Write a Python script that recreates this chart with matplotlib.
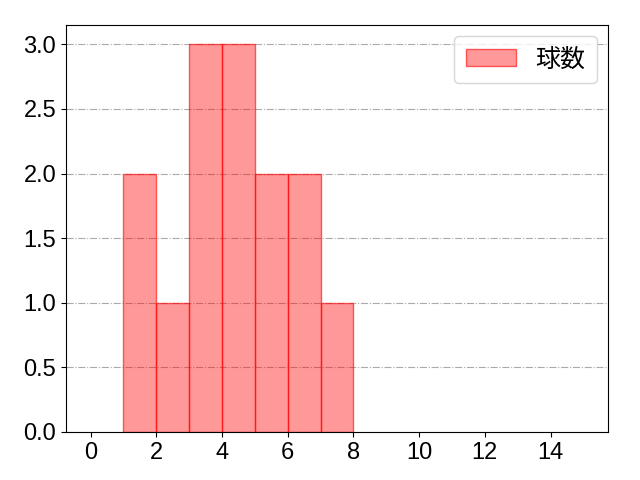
import matplotlib
matplotlib.use('Agg')
import matplotlib.pyplot as plt
import numpy as np

plt.rcParams['font.family'] = ['Liberation Sans', 'Noto Sans CJK JP']

# 各ビンの左端と度数
bin_edges = [1, 2, 3, 4, 5, 6, 7, 8]
counts = [2, 1, 3, 3, 2, 2, 1]
label = '球数'

fig, ax = plt.subplots(figsize=(6.4, 4.8), dpi=100)
ax.hist(bin_edges[:-1], bins=bin_edges, weights=counts,
        color=(1, 0, 0, 0.4), edgecolor=(1, 0, 0, 0.6), linewidth=1, label=label)

ax.set_xlim(-0.75, 15.75)
ax.set_xticks(np.arange(0, 15, 2))
ax.set_yticks(np.arange(0, 3.01, 0.5))
ax.grid(axis='y', linestyle='-.', color='#aaaaaa', linewidth=0.8)
ax.set_axisbelow(True)
ax.tick_params(labelsize=17)
ax.legend(fontsize=18, loc='upper right', borderpad=0.45, borderaxespad=0.45)

fig.subplots_adjust(left=0.103, right=0.95, top=0.948, bottom=0.1)
fig.savefig('out.png', dpi=100)
